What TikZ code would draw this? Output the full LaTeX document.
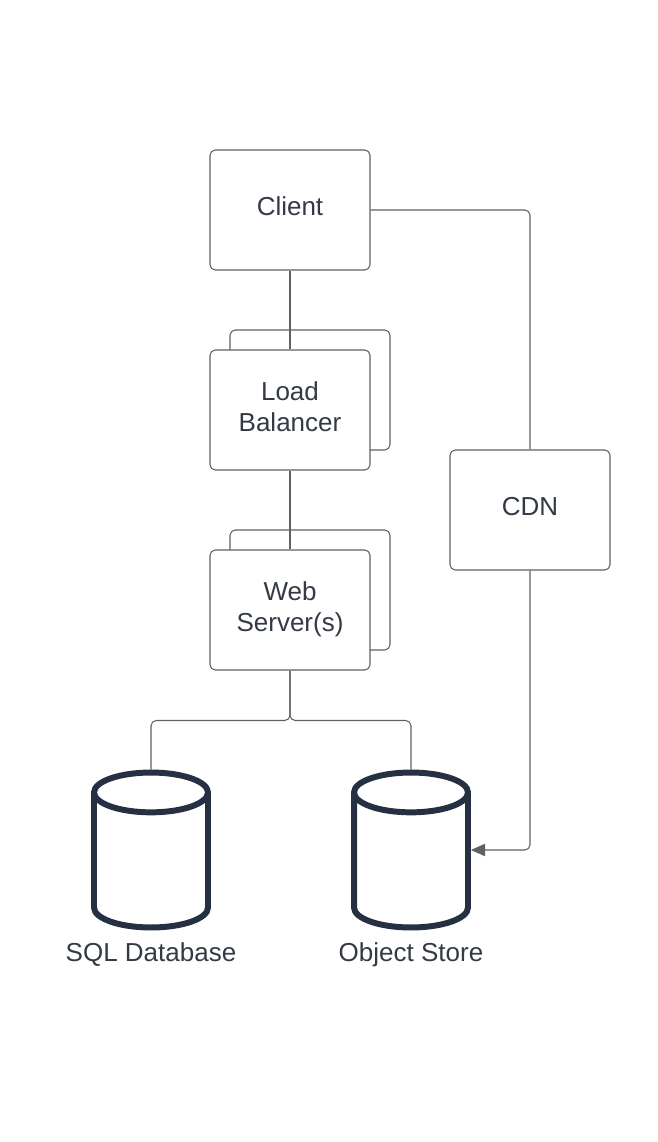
\documentclass[tikz,border=0pt]{standalone}
\usepackage{fontspec}
\setmainfont{Liberation Sans}
\usepackage{xcolor}
\usetikzlibrary{arrows.meta, positioning, shapes.geometric}
\definecolor{ink}{HTML}{333A45}
\definecolor{edge}{HTML}{5D6066}
\definecolor{db}{HTML}{253142}

\begin{document}
\begin{tikzpicture}[
            x=0.02cm, y=-0.02cm,
            box/.style={draw=edge, line width=0.6pt, rounded corners=3pt, fill=white,
                minimum width=3.2cm, minimum height=2.4cm, align=center, text depth=4pt,
                font=\fontsize{14.8}{17.6}\selectfont, text=ink},
            store/.style={cylinder, shape border rotate=90, draw=db, line width=3.4pt,
                aspect=3.4, minimum width=2.28cm, minimum height=3.1cm, anchor=shape center},
            dbtext/.style={font=\fontsize{14.8}{17.6}\selectfont, text=ink},
            link/.style={draw=edge, line width=0.6pt, rounded corners=3pt},
        ]
        \useasboundingbox (0,0) rectangle (658,1142);

        \node[box] (client) at (290,210) {Client};
        \node[box] (lbback) at (310,390) {};
        \node[box] (lb) at (290,410) {Load\\Balancer};
        \node[box] (webback) at (310,590) {};
        \node[box] (web) at (290,610) {Web\\Server(s)};
        \node[box] (cdn) at (530,510) {CDN};

        \node[store] (sql) at (151,850) {};
        \node[store] (obj) at (411,850) {};
        \node[dbtext] (sqlname) at (151,955) {SQL Database};
        \node[dbtext] (objname) at (411,955) {Object Store};

        \draw[link] (client.south) -- (lb.north);
        \draw[link] (lb.south) -- (web.north);
        \draw[link] (web.south) -- ++(0,50) -| (sql.north);
        \draw[link] (web.south) -- ++(0,50) -| (obj.north);
        \draw[link] (client.east) -| (cdn.north);
        \draw[link, -{Triangle[length=8pt, width=7pt]}] (cdn.south) |- (obj.shape center -| obj.east);
\end{tikzpicture}
\end{document}
